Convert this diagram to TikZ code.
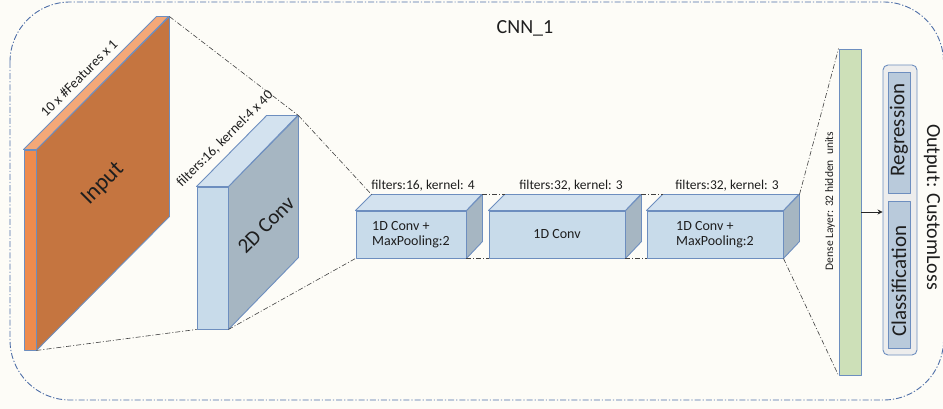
\documentclass[tikz,border=0pt]{standalone}
\usepackage{fontspec}
\setmainfont{Carlito}
\usetikzlibrary{calc,arrows.meta}
\definecolor{bg}{HTML}{FDFCF7}
\definecolor{edge}{HTML}{6D8EBF}
\definecolor{frame}{HTML}{4F6FA8}
\definecolor{orTop}{HTML}{F4A878}
\definecolor{orFront}{HTML}{EE8B4D}
\definecolor{orSide}{HTML}{C57540}
\definecolor{blTop}{HTML}{D3E2EF}
\definecolor{blFront}{HTML}{C8DBEA}
\definecolor{blSide}{HTML}{A6B6C2}
\definecolor{dnGreen}{HTML}{CDE0B8}
\definecolor{outGray}{HTML}{EDEDED}
\definecolor{outBlue}{HTML}{B9CADB}
\definecolor{txt}{HTML}{1E1E1E}
\tikzset{
  face/.style={draw=edge, line width=0.9pt, line join=round},
  link/.style={draw=black!75, line width=0.6pt, dash pattern=on 5pt off 2pt on 1pt off 2pt},
  lbl/.style={text=txt, inner sep=0pt},
}
\begin{document}
\begin{tikzpicture}[x=1pt,y=-1pt]
\fill[bg] (0,0) rectangle (943,409);
\useasboundingbox (0,0) rectangle (943,409);
% outer frame
\draw[frame, line width=0.9pt, dash pattern=on 6pt off 2pt on 1.2pt off 2pt, rounded corners=60] (10,2) rectangle (943.5,400);
\node[lbl, font=\fontsize{20}{24}\selectfont] (title) at (525,28) {CNN\_1};

% Input slab
\node[face, fill=orFront, inner sep=0pt, minimum width=12pt, minimum height=200pt] (inF) at (30,250) {};
\draw[face, fill=orSide] (inF.north east) -- ++(133,-133) -- ++(0,200) -- (inF.south east) -- cycle;
\draw[face, fill=orTop] (inF.north west) -- ++(133,-133) -- ++(12,0) -- (inF.north east) -- cycle;
\coordinate (inBR) at ($(inF.north east)+(133,-133)$);
\node[lbl, rotate=45, font=\fontsize{23}{27}\selectfont] (inT) at (103,184) {Input};
\node[lbl, rotate=45, font=\fontsize{14}{17}\selectfont] (inD) at (79,78) {10 x \#Features x 1};

% 2D conv
\node[face, fill=blFront, inner sep=0pt, minimum width=31pt, minimum height=142pt] (c2F) at (212.5,258) {};
\draw[face, fill=blSide] (c2F.north east) -- ++(70,-71) -- ++(0,142) -- (c2F.south east) -- cycle;
\draw[face, fill=blTop] (c2F.north west) -- ++(70,-71) -- ++(31,0) -- (c2F.north east) -- cycle;
\coordinate (c2BR) at ($(c2F.north east)+(70,-71)$);
\node[lbl, rotate=45, font=\fontsize{21}{25}\selectfont] (c2T) at (266,225) {2D Conv};
\node[lbl, rotate=45, font=\fontsize{14}{17}\selectfont] (c2D) at (225,139) {filters:16, kernel:4 x 40};

% 1D boxes
\newcommand{\oneDbox}[4]{% name, center x, width, text
  \node[face, fill=blFront, inner sep=0pt, minimum width=#3pt, minimum height=47pt,
        align=left, font=\fontsize{14}{15.5}\selectfont, text=txt] (#1F) at (#2,234.5) {#4};
  \draw[face, fill=blSide] (#1F.north east) -- ++(16,-16) -- ++(0,47) -- (#1F.south east) -- cycle;
  \draw[face, fill=blTop] (#1F.north west) -- ++(16,-16) -- ++(#3,0) -- (#1F.north east) -- cycle;
  \coordinate (#1BL) at ($(#1F.north west)+(16,-16)$);
  \coordinate (#1BR) at ($(#1F.north east)+(16,-16)$);
}
\oneDbox{bA}{411}{110}{1D Conv +\\MaxPooling:2}
\oneDbox{bB}{557}{136}{1D Conv}
\oneDbox{bC}{715}{136}{1D Conv +\\MaxPooling:2}
\node[lbl, font=\fontsize{13.5}{15}\selectfont] (bAl) at (423,186) {filters:16, kernel: 4};
\node[lbl, font=\fontsize{13.5}{15}\selectfont] (bBl) at (571,186) {filters:32, kernel: 3};
\node[lbl, font=\fontsize{13.5}{15}\selectfont] (bCl) at (727,186) {filters:32, kernel: 3};

% Dense
\node[face, fill=dnGreen, inner sep=0pt, minimum width=22pt, minimum height=326pt] (dense) at (850,212) {};
\node[lbl, rotate=90, font=\fontsize{11.5}{14}\selectfont] (denseT) at (830,201) {Dense Layer: 32 hidden\ \ units};

% Output
\node[face, fill=outGray, rounded corners=5pt, inner sep=0pt, minimum width=34pt, minimum height=290pt] (out) at (900,210) {};
\node[face, fill=outBlue, inner sep=0pt, minimum width=22pt, minimum height=121pt] (reg) at (899,132.5) {};
\node[face, fill=outBlue, inner sep=0pt, minimum width=22pt, minimum height=147pt] (cls) at (899,274.5) {};
\node[lbl, rotate=90, font=\fontsize{21}{24}\selectfont] (regT) at (899,130) {Regression};
\node[lbl, rotate=90, font=\fontsize{21}{24}\selectfont] (clsT) at (899,281) {Classification};
\node[lbl, rotate=-90, font=\fontsize{20}{24}\selectfont] (outT) at (932,207) {Output: CustomLoss};
\draw[-{Stealth[length=5pt,width=5pt]}, black!85, line width=0.8pt] (dense.east |- 0,212) -- (out.west |- 0,212);

% links
\draw[link] (inBR) -- (c2BR);
\draw[link] (inF.south east) -- (c2F.south west);
\draw[link] (c2BR) -- (bABL);
\draw[link] (c2F.south east) -- (bAF.south west);
\draw[link] (bABR) -- (bBBL);
\draw[link] (bAF.south east) -- (bBF.south west);
\draw[link] (bBBR) -- (bCBL);
\draw[link] (bBF.south east) -- (bCF.south west);
\draw[link] (bCBR) -- (dense.north west);
\draw[link] (bCF.south east) -- (dense.south west);
\end{tikzpicture}
\end{document}
